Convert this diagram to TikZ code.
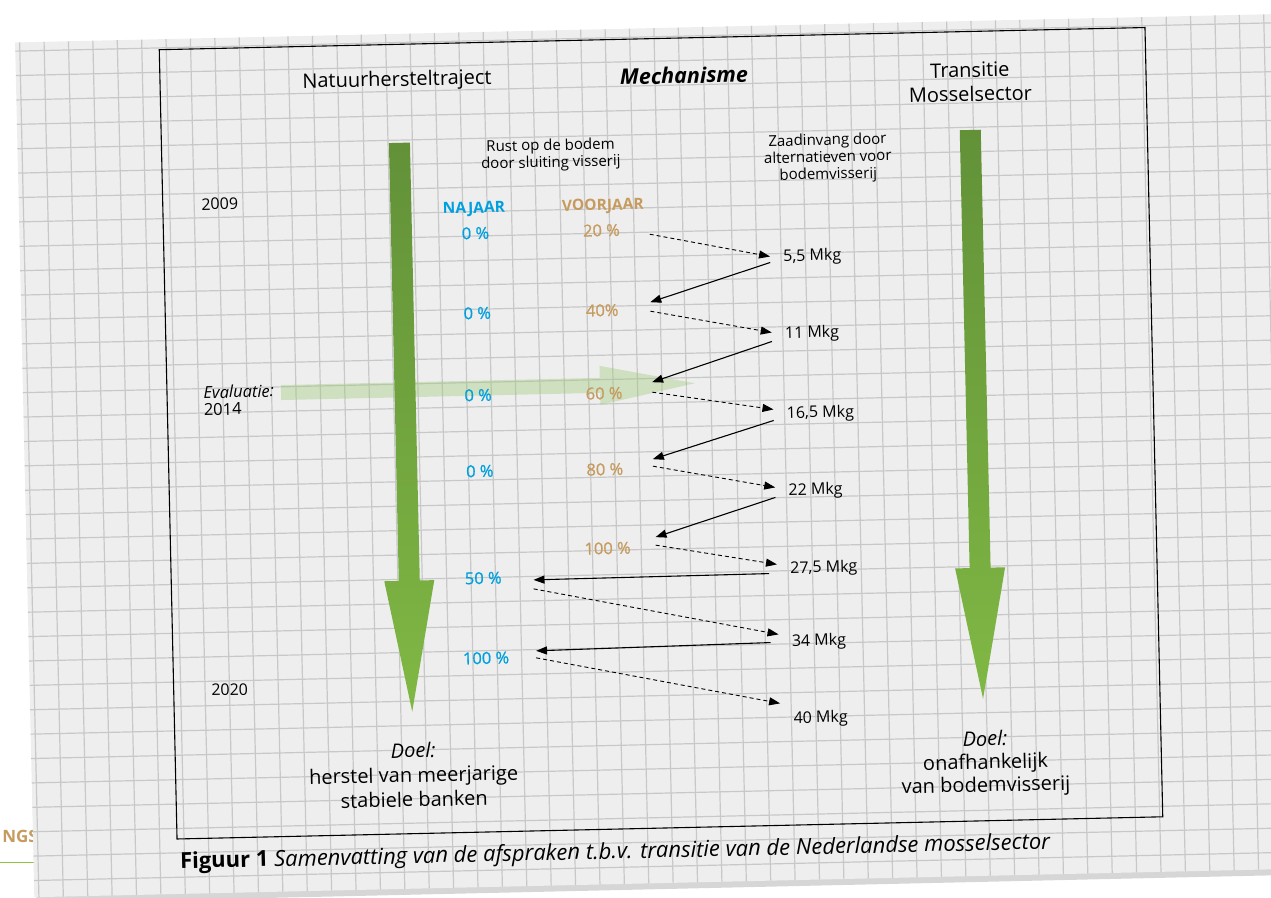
\documentclass[tikz,border=0pt]{standalone}
\usepackage{fontspec}
\setmainfont{Open Sans}
\newfontfamily\numfont[FakeBold=0.9]{Open Sans}
\usetikzlibrary{arrows.meta}

\definecolor{najaarblue}{RGB}{0,160,222}
\definecolor{voorjaartan}{RGB}{198,155,95}
\definecolor{paper}{RGB}{238,238,238}
\definecolor{gridline}{RGB}{200,200,200}
\definecolor{arrowdark}{RGB}{98,145,56}
\definecolor{arrowlight}{RGB}{128,184,68}
\definecolor{evalgreen}{RGB}{150,200,110}
\definecolor{pagegreen}{RGB}{140,198,63}

\begin{document}
\begin{tikzpicture}[x=1pt,y=-1pt,
  head/.style={font=\fontsize{20}{24}\selectfont, align=center},
  small/.style={font=\fontsize{15}{17}\selectfont, align=center},
  year/.style={font=\fontsize{16}{17}\selectfont, align=left},
  najaar/.style={font=\fontsize{16.5}{18}\numfont, text=najaarblue, minimum width=100pt},
  voorjaar/.style={font=\fontsize{16.5}{18}\numfont, text=voorjaartan, minimum width=96pt},
  season/.style={font=\fontsize{15.5}{18}\selectfont\bfseries},
  mkg/.style={font=\fontsize{16}{18}\selectfont, anchor=west, inner xsep=13pt},
  doel/.style={font=\fontsize{20}{24.5}\selectfont, align=center},
  feed/.style={-{Triangle[length=11pt,width=8pt]}, line width=1.1pt},
  back/.style={-{Triangle[length=11pt,width=8pt]}, line width=0.9pt, dash pattern=on 4pt off 3pt}
]
\useasboundingbox (0,0) rectangle (1271,897);
\clip (0,0) rectangle (1271,897);

% Page behind the sheet
\node[anchor=east, inner sep=0pt, text=voorjaartan, font=\fontsize{17}{20}\selectfont\bfseries] (ngs) at (38,836) {NGS};
\draw[pagegreen, line width=1pt] (0,862) -- (35,862);

\begin{scope}[rotate around={1.29:(661,433)}, transform shape]
% Squared paper
\fill[black!16] (26,881) rectangle (1290,889);
\fill[paper] (24,28) rectangle (1290,883);
\foreach \gx in {0,...,51}
  \draw[gridline, line width=1.2pt] ({28.6+24.4*\gx},28) -- ({28.6+24.4*\gx},883);
\foreach \gy in {0,...,34}
  \draw[gridline, line width=1.2pt] (24,{36.7+24.4*\gy}) -- (1290,{36.7+24.4*\gy});

% Frame
\draw[line width=1.1pt] (168,38.5) rectangle (1154,828);

% Evaluation arrow
\fill[evalgreen, fill opacity=0.35] (282,376.5) -- (601,376.5) -- (601,364.5) -- (696,384)
  -- (601,403.5) -- (601,391.5) -- (282,391.5) -- cycle;

% Big arrows
\shade[top color=arrowdark, bottom color=arrowlight] (395.5,137) -- (416.5,137) -- (416.5,575)
  -- (431,575) -- (406,706) -- (381,575) -- (395.5,575) -- cycle;
\shade[top color=arrowdark, bottom color=arrowlight] (966.5,137) -- (987.5,137) -- (987.5,575)
  -- (1002,575) -- (977,706) -- (952,575) -- (966.5,575) -- cycle;

% Column heads
\node[head] (natuur) at (405,75) {Natuurhersteltraject};
\node[head, font=\fontsize{21.5}{24}\selectfont\bfseries\itshape] (mech) at (692,76) {Mechanisme};
\node[head] (trans) at (978,89) {Transitie\\Mosselsector};
\node[small] (rust) at (557,152.5) {Rust op de bodem\\door sluiting visserij};
\node[small] (zaad) at (834,162) {Zaadinvang door\\alternatieven voor\\bodemvisserij};

% Years
\node[year] (y2009) at (225,194) {2009};
\node[year, anchor=west, font=\fontsize{16.5}{17}\selectfont] (eval) at (201,390.5) {\textit{Evaluatie:}\\2014};
\node[year] (y2020) at (224,680) {2020};

% Seasons
\node[season, text=najaarblue] (najaar) at (479,205) {NAJAAR};
\node[season, text=voorjaartan] (voorjaar) at (608,205) {VOORJAAR};

\node[najaar] (n1) at (480,229) {0 \%};
\node[najaar] (n2) at (480,309) {0 \%};
\node[najaar] (n3) at (479,391) {0 \%};
\node[najaar] (n4) at (479,467) {0 \%};
\node[najaar] (n5) at (480,574) {50 \%};
\node[najaar] (n6) at (481,654) {100 \%};

\node[voorjaar] (v1) at (606,229) {20 \%};
\node[voorjaar] (v2) at (605,309) {40\%};
\node[voorjaar] (v3) at (605,392) {60 \%};
\node[voorjaar] (v4) at (604,468) {80 \%};
\node[voorjaar] (v5) at (605,547) {100 \%};

% Mussel seed
\node[mkg] (m1) at (774,260) {5,5 Mkg};
\node[mkg] (m2) at (774,337) {11 Mkg};
\node[mkg] (m3) at (774,417) {16,5 Mkg};
\node[mkg] (m4) at (774,494) {22 Mkg};
\node[mkg] (m5) at (774,572) {27,5 Mkg};
\node[mkg] (m6) at (774,645) {34 Mkg};
\node[mkg] (m7) at (774,722) {40 Mkg};

% Arrows
\draw[back] ([yshift=-5pt]v1.east) -- ([yshift=1pt]m1.west);
\draw[feed] ([yshift=-5pt]m1.west) -- ([yshift=7pt]v2.east);
\draw[back] ([yshift=-2pt]v2.east) -- ([yshift=2pt]m2.west);
\draw[feed] ([yshift=-7pt]m2.west) -- ([yshift=10pt]v3.east);
\draw[back] (v3.east) -- ([yshift=5pt]m3.west);
\draw[feed] ([yshift=-6pt]m3.west) -- ([yshift=9pt]v4.east);
\draw[back] ([yshift=2pt]v4.east) -- ([yshift=4pt]m4.west);
\draw[feed] ([yshift=-6pt]m4.west) -- ([yshift=10pt]v5.east);
\draw[back] ([yshift=2pt]v5.east) -- ([yshift=5pt]m5.west);
\draw[feed] ([xshift=-8pt,yshift=-4pt]m5.west) -- ([yshift=-3pt]n5.east);
\draw[back] ([yshift=-12pt]n5.east) -- ([yshift=8pt]m6.west);
\draw[feed] ([xshift=-8pt]m6.west) -- ([yshift=6pt]n6.east);
\draw[back] ([yshift=-1pt]n6.east) -- ([yshift=16pt]m7.west);

% Goals
\node[doel] (doel1) at (406,769) {\textit{Doel:}\\herstel van meerjarige\\stabiele banken};
\node[doel, font=\fontsize{20}{23}\selectfont] (doel2) at (978,771) {\textit{Doel:}\\onafhankelijk\\van bodemvisserij};

% Caption
\node[font=\fontsize{22}{24}\selectfont] (fig) at (606,852)
  {\textbf{Figuur 1} \textit{Samenvatting van de afspraken t.b.v. transitie van de Nederlandse mosselsector}};
\end{scope}
\end{tikzpicture}
\end{document}
